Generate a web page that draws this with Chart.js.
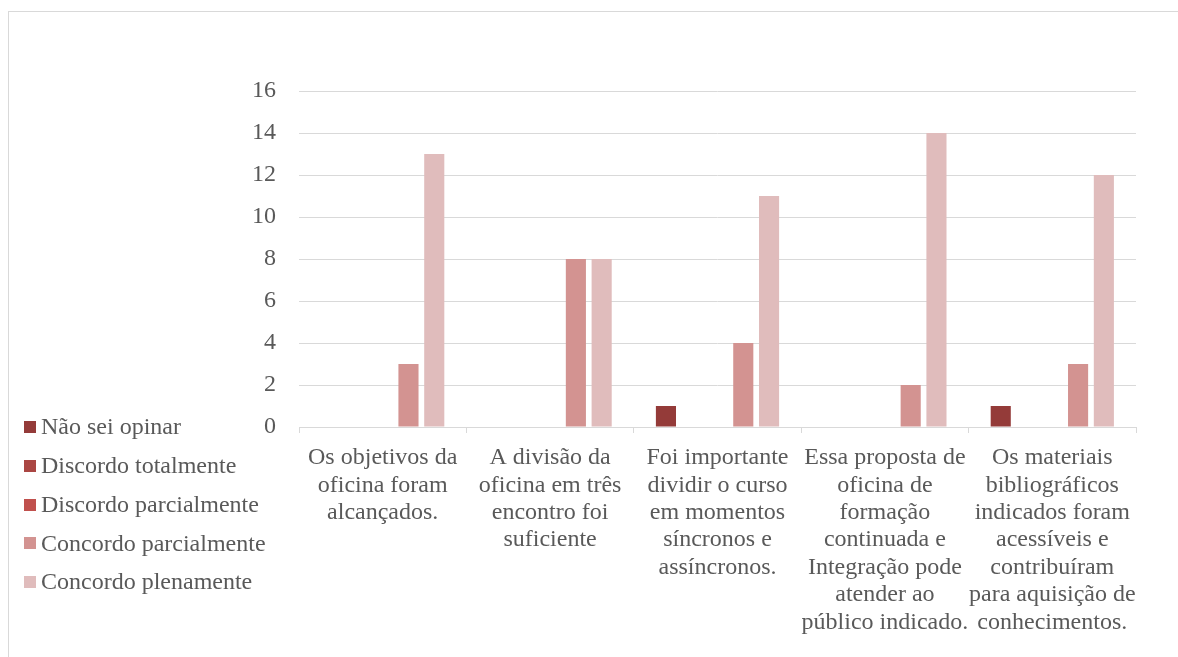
<!DOCTYPE html>
<html>
<head>
<meta charset="utf-8">
<script src="https://cdn.jsdelivr.net/npm/chart.js@4/dist/chart.umd.min.js"></script>
<style>
  html, body { margin: 0; padding: 0; background: #ffffff; overflow: hidden; }
  #wrap { position: absolute; left: 0; top: 0; width: 1178px; height: 657px; }
</style>
</head>
<body>
<div id="wrap"><canvas id="c" width="1178" height="657"></canvas></div>
<script>
// Statements evaluated in the workshop questionnaire
const categories = [
  ["Os objetivos da", "oficina foram", "alcançados."],
  ["A divisão da", "oficina em três", "encontro foi", "suficiente"],
  ["Foi importante", "dividir o curso", "em momentos", "síncronos e", "assíncronos."],
  ["Essa proposta de", "oficina de", "formação", "continuada e", "Integração pode", "atender ao", "público indicado."],
  ["Os materiais", "bibliográficos", "indicados foram", "acessíveis e", "contribuíram", "para aquisição de", "conhecimentos."]
];

// Number of answers per option
const naoSeiOpinar          = [0, 0, 1, 0, 1];
const discordoTotalmente    = [0, 0, 0, 0, 0];
const discordoParcialmente  = [0, 0, 0, 0, 0];
const concordoParcialmente  = [3, 8, 4, 2, 3];
const concordoPlenamente    = [13, 8, 11, 14, 12];

const seriesNames = ["Não sei opinar", "Discordo totalmente", "Discordo parcialmente", "Concordo parcialmente", "Concordo plenamente"];
const seriesColors = ["#943b39", "#aa4643", "#c0504d", "#d39391", "#e0bcbc"];

const yTicks = [0, 2, 4, 6, 8, 10, 12, 14, 16];

const FONT = "'Liberation Serif', 'Times New Roman', serif";
const TEXT = "#595959";
const GRID = "#d9d9d9";

const seriesValues = [naoSeiOpinar, discordoTotalmente, discordoParcialmente, concordoParcialmente, concordoPlenamente];

// Outer frame of the chart object
const framePlugin = {
  id: 'frame',
  beforeDraw(chart) {
    const ctx = chart.ctx;
    ctx.save();
    ctx.strokeStyle = GRID;
    ctx.lineWidth = 1;
    ctx.strokeRect(8.5, 11.5, 1400, 800);
    ctx.restore();
  }
};

// Vertical legend placed bottom-left, below the value axis
const sideLegend = {
  id: 'sideLegend',
  afterDraw(chart) {
    const ctx = chart.ctx;
    ctx.save();
    ctx.font = "24px " + FONT;
    ctx.textBaseline = 'middle';
    ctx.textAlign = 'left';
    chart.data.datasets.forEach((ds, i) => {
      const y = 428 + i * 38.8;
      ctx.fillStyle = ds.backgroundColor;
      ctx.fillRect(24, Math.round(y - 7), 12, 12);
      ctx.fillStyle = TEXT;
      ctx.fillText(ds.label, 41, y);
    });
    ctx.restore();
  }
};

new Chart(document.getElementById('c'), {
  type: 'bar',
  data: {
    labels: categories,
    datasets: seriesNames.map((name, i) => ({
      label: name,
      data: seriesValues[i],
      backgroundColor: seriesColors[i],
      borderWidth: 0,
      categoryPercentage: 0.77,
      barPercentage: 0.78
    }))
  },
  options: {
    responsive: false,
    animation: false,
    devicePixelRatio: 1,
    layout: { padding: { left: 0, top: 91, right: 42, bottom: 0 } },
    plugins: {
      legend: { display: false },
      title: { display: false },
      tooltip: { enabled: false }
    },
    scales: {
      x: {
        offset: true,
        grid: { display: true, drawOnChartArea: false, drawTicks: true, tickLength: 6, color: GRID, offset: true },
        border: { display: true, color: GRID, width: 1 },
        ticks: {
          color: TEXT,
          font: { family: FONT, size: 24, lineHeight: 1.145 },
          padding: 11,
          maxRotation: 0,
          autoSkip: false
        },
        afterFit(scale) { scale.height = 230; }
      },
      y: {
        min: 0,
        max: 16,
        afterBuildTicks(scale) { scale.ticks = yTicks.map(v => ({ value: v })); },
        grid: { color: GRID, drawTicks: false, lineWidth: 1 },
        border: { display: false },
        ticks: {
          color: TEXT,
          font: { family: FONT, size: 24 },
          padding: 23
        },
        afterFit(scale) { scale.width = 299; }
      }
    }
  },
  plugins: [framePlugin, sideLegend]
});
</script>
</body>
</html>
